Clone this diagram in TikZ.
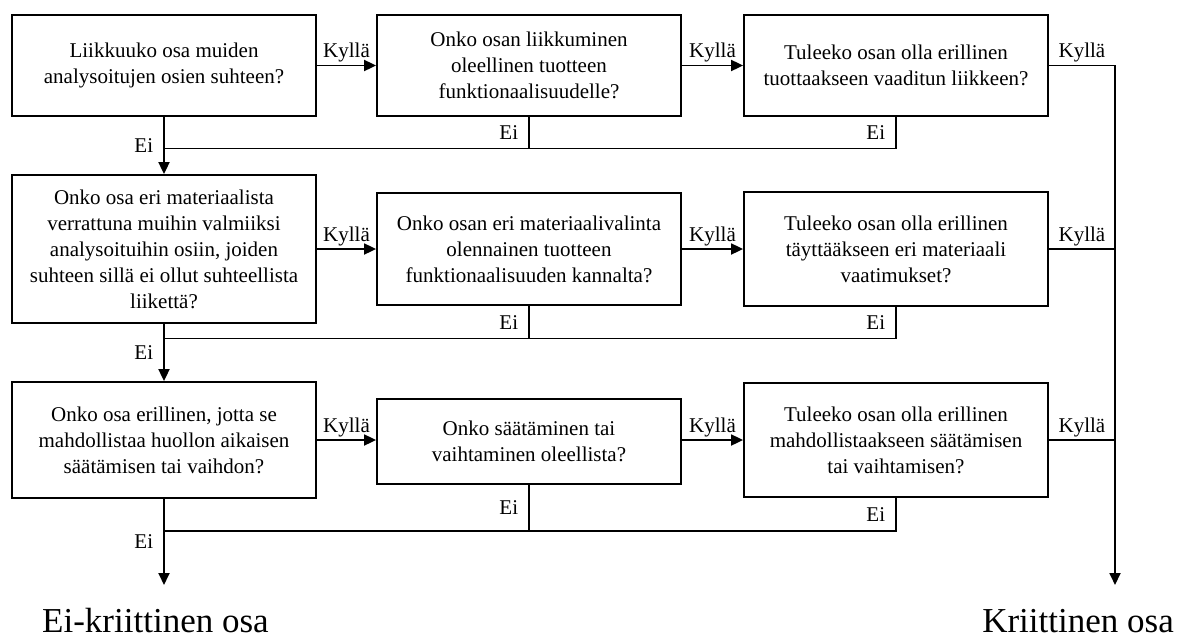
\documentclass[tikz,border=0pt]{standalone}
\usepackage{fontspec}
\setmainfont{Liberation Serif}
\usetikzlibrary{arrows.meta,calc}
\newcommand{\myqfont}{\fontsize{21}{26}\selectfont}
\newcommand{\mybigfont}{\fontsize{35}{40}\selectfont}
\tikzset{
  qbox/.style={draw, line width=1.8pt, align=center, minimum width=304pt, inner sep=0pt, font=\myqfont},
  conn/.style={line width=1.8pt},
  arr/.style={conn, -{Triangle[length=12pt,width=11pt]}},
  yeslab/.style={above, inner sep=2.5pt, font=\myqfont},
  nolab/.style={left, inner xsep=10pt, inner ysep=0pt, font=\myqfont},
  endlab/.style={font=\mybigfont, inner sep=0pt}
}
\begin{document}
\begin{tikzpicture}[x=1pt,y=-1pt]
\useasboundingbox (0,0) rectangle (1178,640);
% row 1
\node[qbox, minimum height=101pt] (A1) at (164,65.5) {Liikkuuko osa muiden\\analysoitujen osien suhteen?};
\node[qbox, minimum height=101pt] (B1) at (529,65.5) {Onko osan liikkuminen\\oleellinen tuotteen\\funktionaalisuudelle?};
\node[qbox, minimum height=101pt] (C1) at (896,65.5) {Tuleeko osan olla erillinen\\tuottaakseen vaaditun liikkeen?};
% row 2
\node[qbox, minimum height=148pt] (A2) at (164,249) {Onko osa eri materiaalista\\verrattuna muihin valmiiksi\\analysoituihin osiin, joiden\\suhteen sillä ei ollut suhteellista\\liikettä?};
\node[qbox, minimum height=112pt] (B2) at (529,249) {Onko osan eri materiaalivalinta\\olennainen tuotteen\\funktionaalisuuden kannalta?};
\node[qbox, minimum height=114pt] (C2) at (896,249) {Tuleeko osan olla erillinen\\täyttääkseen eri materiaali\\vaatimukset?};
% row 3
\node[qbox, minimum height=116pt] (A3) at (164,440) {Onko osa erillinen, jotta se\\mahdollistaa huollon aikaisen\\säätämisen tai vaihdon?};
\node[qbox, minimum height=85pt] (B3) at (529,441.5) {Onko säätäminen tai\\vaihtaminen oleellista?};
\node[qbox, minimum height=114pt] (C3) at (896,440) {Tuleeko osan olla erillinen\\mahdollistaakseen säätämisen\\tai vaihtamisen?};
% end labels
\node[endlab, anchor=base west] (EK) at (42,632) {Ei-kriittinen osa};
\node[endlab, anchor=base east] (KR) at (1174,632) {Kriittinen osa};
% helper coordinates
\coordinate (j1) at (164,148.5);
\coordinate (j2) at (164,338.5);
\coordinate (j3) at (164,531);
\coordinate (rx) at (1115,0);
\coordinate (aend) at (164,585);
\coordinate (kend) at (1115,585);
% yes arrows
\draw[arr] (A1.east) -- node[yeslab]{Kyllä} (B1.west);
\draw[arr] (B1.east) -- node[yeslab]{Kyllä} (C1.west);
\draw[arr] (A2.east) -- node[yeslab]{Kyllä} (B2.west);
\draw[arr] (B2.east) -- node[yeslab]{Kyllä} (C2.west);
\draw[arr] (A3.east) -- node[yeslab]{Kyllä} (A3.east -| B3.west);
\draw[arr] (B3.east |- A3.east) -- node[yeslab]{Kyllä} (A3.east -| C3.west);
% right collector
\draw[arr] (C1.east) -- node[yeslab]{Kyllä} (C1.east -| rx) -- (kend);
\draw[conn] (C2.east) -- node[yeslab]{Kyllä} (C2.east -| rx);
\draw[conn] (C3.east) -- node[yeslab]{Kyllä} (C3.east -| rx);
% no paths
\draw[arr] (A1) -- node[nolab]{Ei} (A2);
\draw[arr] (A2) -- node[nolab]{Ei} (A3);
\draw[arr] (A3) -- node[nolab]{Ei} (aend);
\draw[conn] (B1.south) -- node[nolab]{Ei} (B1.south |- j1) -- (j1);
\draw[conn] (C1.south) -- node[nolab]{Ei} (C1.south |- j1) -- (B1.south |- j1);
\draw[conn] (B2.south) -- node[nolab]{Ei} (B2.south |- j2) -- (j2);
\draw[conn] (C2.south) -- node[nolab]{Ei} (C2.south |- j2) -- (B2.south |- j2);
\draw[conn] (B3.south) -- node[nolab]{Ei} (B3.south |- j3) -- (j3);
\draw[conn] (C3.south) -- node[nolab]{Ei} (C3.south |- j3) -- (B3.south |- j3);
\end{tikzpicture}
\end{document}
